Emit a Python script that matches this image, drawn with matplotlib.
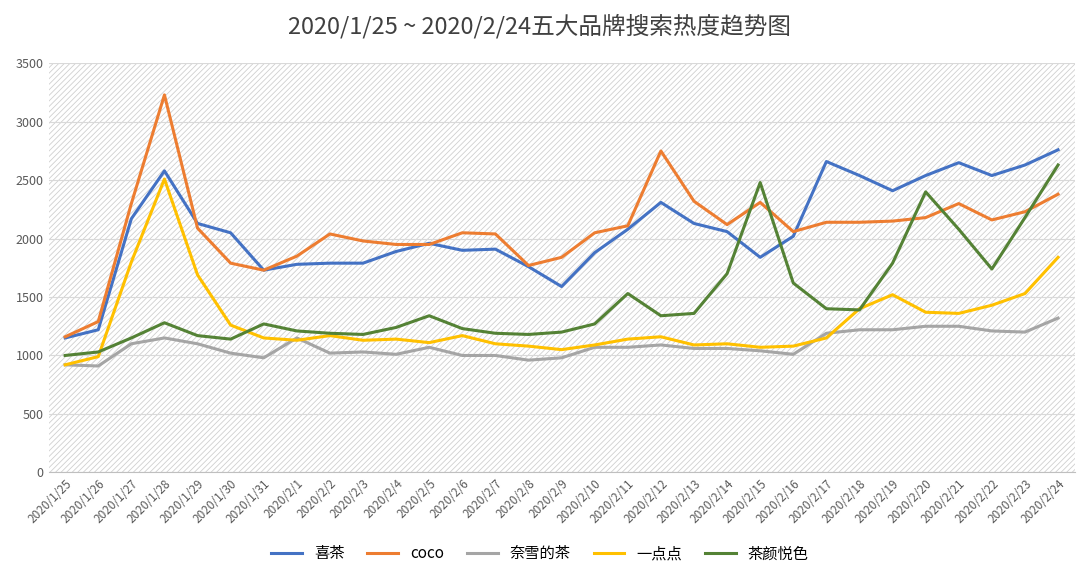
import matplotlib.pyplot as plt
import matplotlib.patches as mpatches
from matplotlib import font_manager

cjk = [f.name for f in font_manager.fontManager.ttflist if 'CJK' in f.name]
plt.rcParams['font.family'] = 'sans-serif'
plt.rcParams['font.sans-serif'] = ['Noto Sans CJK SC', 'Noto Sans CJK JP'] + cjk + ['DejaVu Sans']
plt.rcParams['hatch.linewidth'] = 0.6

dates = ['2020/1/%d' % d for d in range(25, 32)] + ['2020/2/%d' % d for d in range(1, 25)]

heytea = [1150, 1220, 2170, 2580, 2130, 2050, 1730, 1780, 1790, 1790, 1890, 1960, 1900, 1910, 1760, 1590,
          1880, 2080, 2310, 2130, 2060, 1840, 2020, 2660, 2540, 2410, 2540, 2650, 2540, 2630, 2760]
coco = [1160, 1290, 2300, 3230, 2090, 1790, 1730, 1850, 2040, 1980, 1950, 1950, 2050, 2040, 1770, 1840,
        2050, 2110, 2750, 2320, 2120, 2310, 2060, 2140, 2140, 2150, 2180, 2300, 2160, 2230, 2380]
naixue = [920, 910, 1100, 1150, 1100, 1020, 980, 1150, 1020, 1030, 1010, 1070, 1000, 1000, 960, 980,
          1070, 1070, 1090, 1060, 1060, 1040, 1010, 1190, 1220, 1220, 1250, 1250, 1210, 1200, 1320]
yidiandian = [920, 990, 1800, 2510, 1690, 1260, 1150, 1130, 1170, 1130, 1140, 1110, 1170, 1100, 1080, 1050,
              1090, 1140, 1160, 1090, 1100, 1070, 1080, 1150, 1400, 1520, 1370, 1360, 1430, 1530, 1840]
chayan = [1000, 1030, 1150, 1280, 1170, 1140, 1270, 1210, 1190, 1180, 1240, 1340, 1230, 1190, 1180, 1200,
          1270, 1530, 1340, 1360, 1700, 2480, 1620, 1400, 1390, 1790, 2400, 2080, 1740, 2180, 2630]

series = [('喜茶', heytea, '#4472C4'), ('coco', coco, '#ED7D31'), ('奈雪的茶', naixue, '#A5A5A5'),
          ('一点点', yidiandian, '#FFC000'), ('茶颜悦色', chayan, '#548235')]

fig = plt.figure(figsize=(10.8, 5.76), dpi=100)
ax = fig.add_axes([0.045, 0.18, 0.95, 0.71])
ax.add_patch(mpatches.Rectangle((0, 0), 1, 1, transform=ax.transAxes, facecolor='white',
                                edgecolor='#cfcfcf', hatch='//////', lw=0, zorder=0))
x = range(len(dates))
for name, vals, c in series:
    ax.plot(x, vals, color=c, lw=2.2, label=name, zorder=3)
ax.set_ylim(0, 3500)
ax.set_yticks(range(0, 3501, 500))
ax.set_xlim(-0.5, len(dates) - 0.5)
ax.set_xticks(list(x))
ax.set_xticklabels(dates, rotation=45, ha='right', rotation_mode='anchor', fontsize=8.5, color='#595959')
ax.tick_params(axis='y', labelsize=9, colors='#595959', length=0)
ax.tick_params(axis='x', length=0)
ax.grid(axis='y', color='#d9d9d9', lw=0.8, zorder=1)
for s in ['top', 'right', 'left']:
    ax.spines[s].set_visible(False)
ax.spines['bottom'].set_color('#bfbfbf')
fig.suptitle('2020/1/25 ~ 2020/2/24五大品牌搜索热度趋势图', fontsize=17, color='#404040', y=0.975)
fig.legend(loc='lower center', ncol=5, frameon=False, fontsize=11, bbox_to_anchor=(0.5, 0.0),
           handlelength=2.0, columnspacing=1.5)
fig.savefig('out.png')
